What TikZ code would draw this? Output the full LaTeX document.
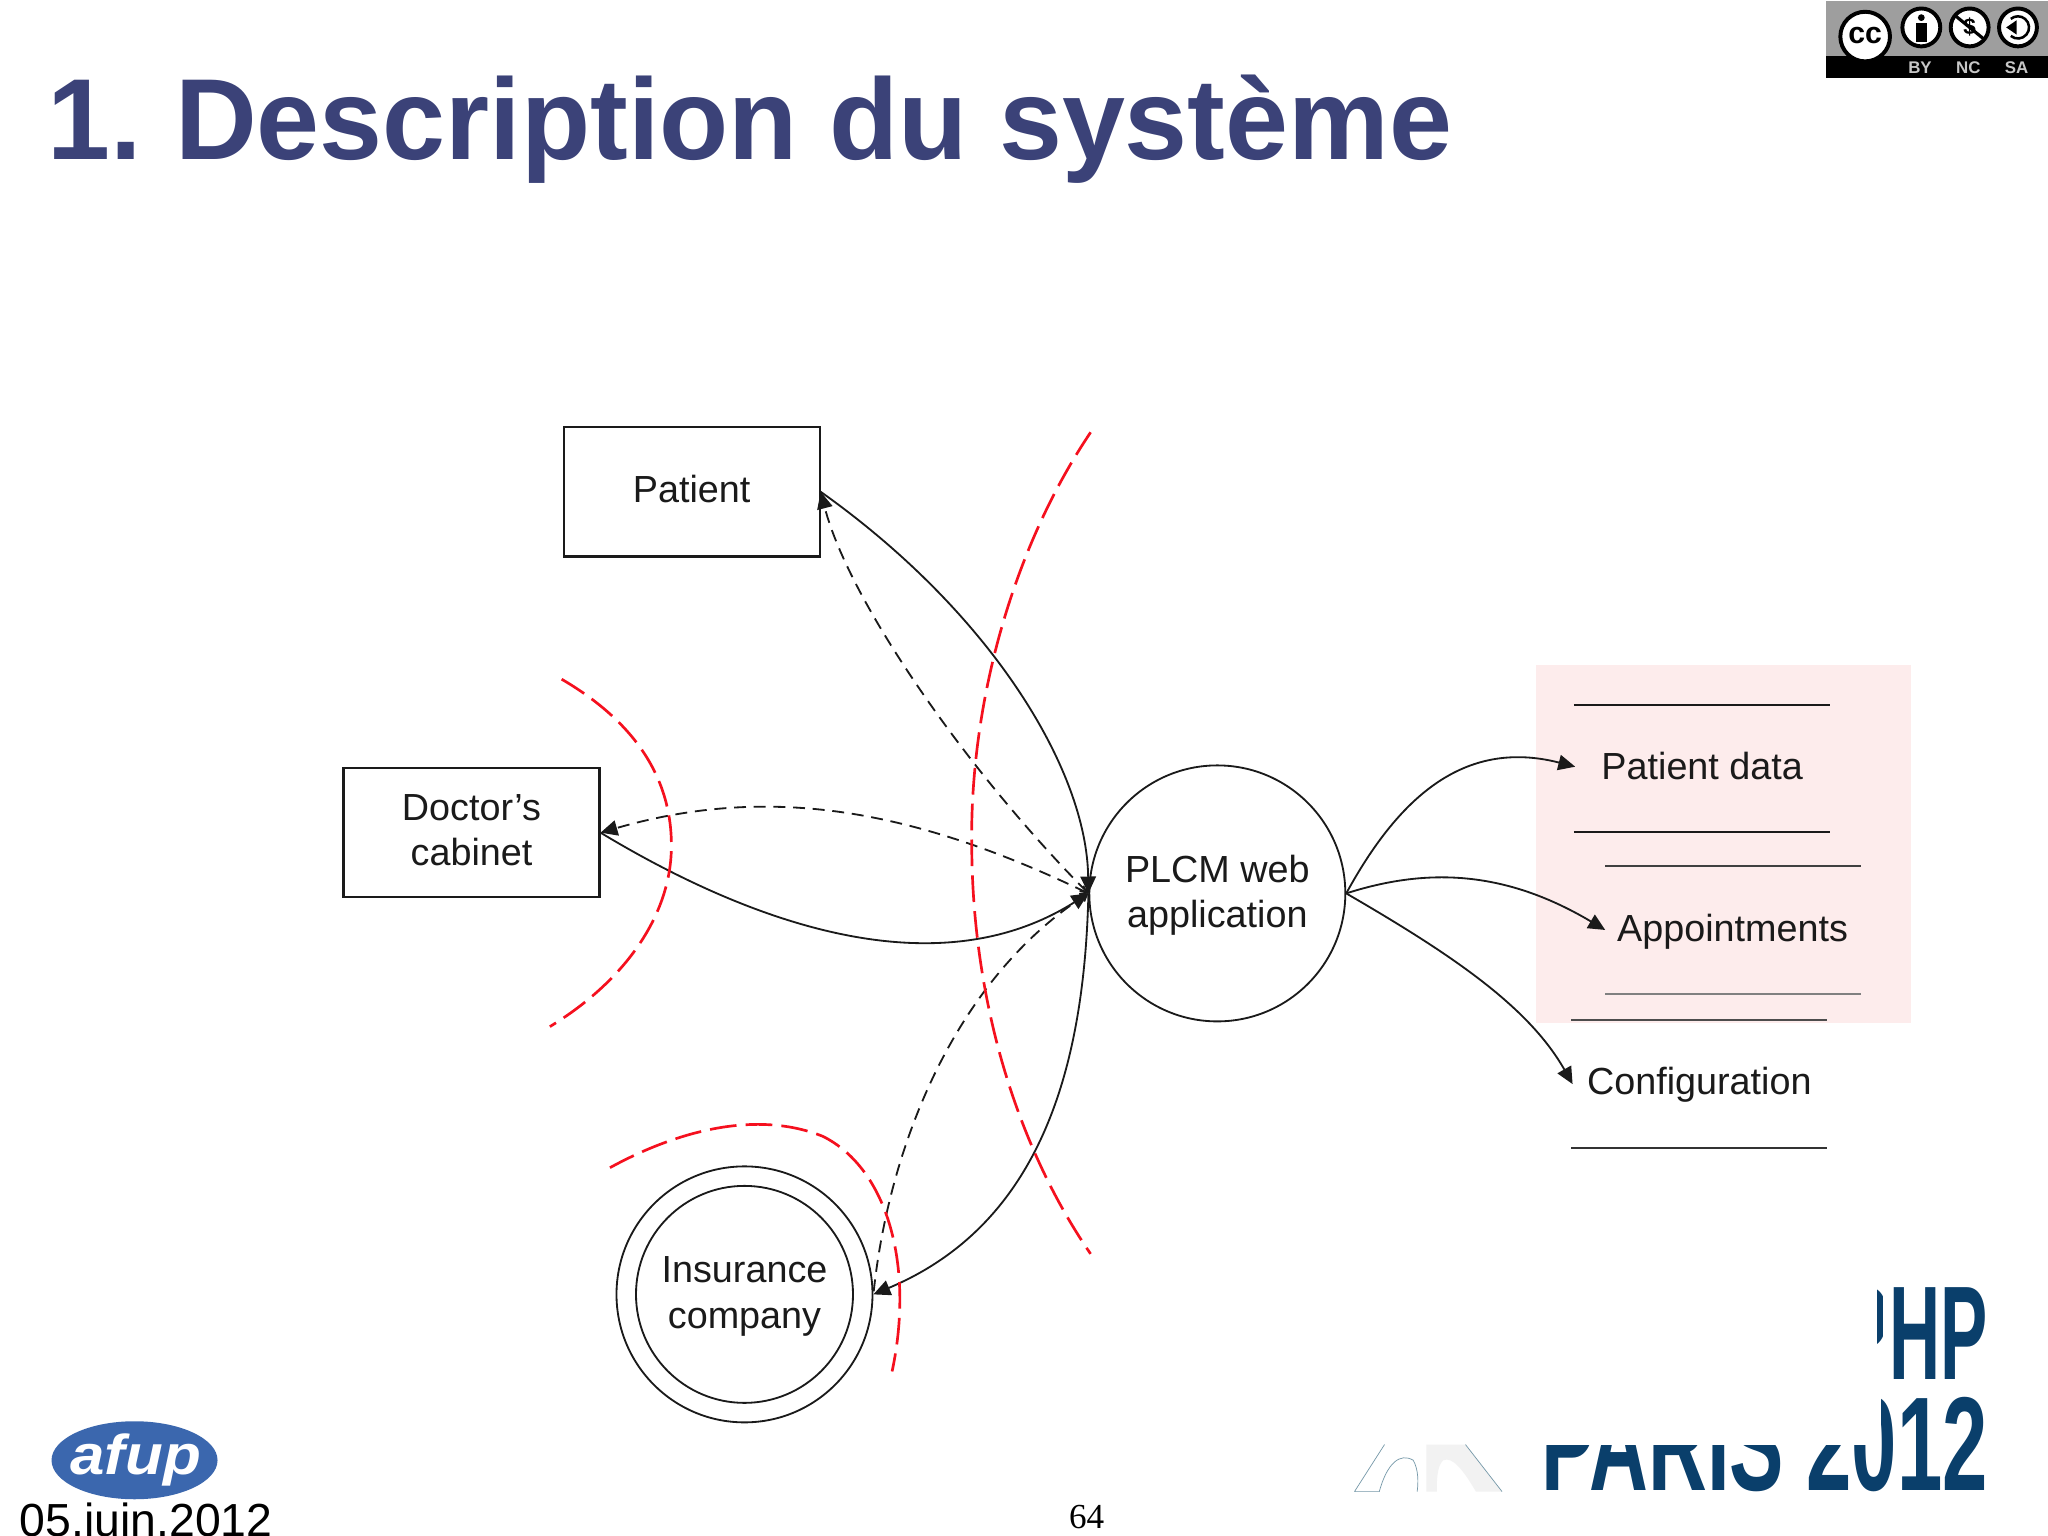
\documentclass[tikz,border=0pt]{standalone}
\usepackage{fontspec}
\setmainfont{Liberation Sans}
\newfontfamily\timesf{Liberation Serif}
\usetikzlibrary{arrows.meta,shapes.geometric}
\definecolor{titleblue}{HTML}{3B4278}
\definecolor{phpblue}{HTML}{0A3F6B}
\definecolor{afupblue}{HTML}{3B67AE}
\definecolor{pinkbg}{HTML}{FDECEC}
\definecolor{redline}{HTML}{F5101E}
\definecolor{inkline}{HTML}{1A1A1A}
\tikzset{
 x=0.0653cm,y=-0.0653cm,
 lbl/.style={font=\fontsize{53.7pt}{64.5pt}\selectfont,text=inkline,align=center,inner sep=0pt},
 boxnode/.style={draw=inkline,line width=3pt,rectangle,minimum width=12.8cm,minimum height=6.47cm,inner sep=0pt},
 circnode/.style={draw=inkline,line width=2.6pt,circle,minimum size=12.8cm,inner sep=0pt},
 up lbl/.style={label={[lbl,yshift=3.5pt]center:#1}},
 down lbl/.style={label={[lbl,yshift=-3pt]center:#1}},
 link/.style={draw=inkline,line width=2.6pt},
 dash link/.style={link,dash pattern=on 17pt off 11pt},
 tip/.style={-{Triangle[length=24pt,width=22pt]}},
 both/.style={{Straight Barb[length=9pt,width=13pt]}-{Triangle[length=24pt,width=22pt]}},
 barb/.style={{Straight Barb[length=9pt,width=13pt]}-},
 boundary/.style={draw=redline,line width=3.8pt,dash pattern=on 38pt off 13pt},
 rule/.style={draw=inkline,line width=2.6pt},
 store/.style={lbl,anchor=base west},
 cclab/.style={font=\fontsize{24pt}{24pt}\selectfont\bfseries,text=black!22,inner sep=0pt},
 ccicon/.style={draw=black,fill=white,line width=5.6pt},
}
\begin{document}
\begin{tikzpicture}
\useasboundingbox (0,0) rectangle (1568,1176);
\fill[white] (0,0) rectangle (1568,1176);
\begin{scope}
\clip (0,0) rectangle (1568,1176);
\fill[pinkbg] (1176,509) rectangle (1463,783);

% title
\node[anchor=base west,inner sep=0pt,text=titleblue,xscale=.982,font=\fontsize{164pt}{180pt}\selectfont\bfseries] (title) at (36,122) {1.\kern-12pt{} Description du système};

% cc badge
\fill[black!38] (1398,1) rectangle (1568,43);
\fill[black] (1398,43) rectangle (1568,60);
\fill[black!38] (1405,40) arc (180:360:23 and 15) -- cycle;
\filldraw[ccicon] (1428,28) circle (19);
\foreach \cx in {1471,1508,1545}{\filldraw[ccicon] (\cx,21) circle (14.5);}
\node[font=\fontsize{43pt}{43pt}\selectfont\bfseries,inner sep=0pt] (cc) at (1428,27) {cc};
\fill[black] (1471,13.5) circle (2.6);
\fill[black] (1467,17.5) rectangle (1475,32);
\node[font=\fontsize{32pt}{32pt}\selectfont\bfseries,inner sep=0pt] (nc) at (1508,21) {\$};
\draw[line width=4.5pt] (1497,12) -- (1519,30);
\draw[line width=3.6pt] (1539.5,27.5) arc (130:-130:8.5);
\fill[black] (1536,21) -- (1544,15.5) -- (1544,26.5) -- cycle;
\node[cclab] (by) at (1470,52) {BY};
\node[cclab] (nclab) at (1507,52) {NC};
\node[cclab] (sa) at (1544,52) {SA};

% diagram nodes
\node[boxnode,up lbl={Patient}] (patient) at (529.5,376.5) {};
\node[boxnode,up lbl={Doctor’s\\cabinet}] (doctor) at (361,637.5) {};
\node[circnode,down lbl={PLCM web\\application}] (plcm) at (932,684) {};
\node[circnode] (insouter) at (570,991) {};
\node[circnode,minimum size=10.85cm,down lbl={Insurance\\company}] (insurance) at (570,991) {};

% connectors
\draw[link,tip] (patient.east) .. controls (760,470) and (832,590) .. (plcm.west);
\draw[dash link,both] (plcm.west) .. controls (740,590) and (650,460) .. (patient.east);
\draw[dash link,both] (plcm.west) .. controls (700,620) and (590,600) .. (doctor.east);
\draw[link,tip] (doctor.east) .. controls (560,698) and (710,762) .. (plcm.west);
\draw[dash link,barb] (plcm.west) .. controls (730,750) and (680,880) .. (insouter.east);
\draw[link,tip] (plcm.west) .. controls (830,830) and (790,940) .. (insouter.east);

% boundaries
\draw[boundary] (835,331) .. controls (775,420) and (742,540) .. (744,650) .. controls (745,770) and (780,880) .. (835,960);
\draw[boundary] (430,520) .. controls (490,555) and (515,600) .. (514,650) .. controls (513,700) and (480,750) .. (421,786);
\draw[boundary] (467,894) .. controls (520,865) and (580,850) .. (630,870) .. controls (680,895) and (700,970) .. (683,1050);

% data stores
\coordinate (s1a) at (1205,540); \coordinate (s1b) at (1401,540);
\coordinate (s2a) at (1205,637); \coordinate (s2b) at (1401,637);
\coordinate (s3a) at (1229,663); \coordinate (s3b) at (1425,663);
\coordinate (s4a) at (1229,761); \coordinate (s4b) at (1425,761);
\coordinate (s5a) at (1203,781); \coordinate (s5b) at (1399,781);
\coordinate (s6a) at (1203,879); \coordinate (s6b) at (1399,879);
\draw[rule] (s1a) -- (s1b);
\draw[rule,line width=2.8pt] (s2a) -- (s2b);
\draw[rule,draw=black!75] (s3a) -- (s3b);
\draw[rule,draw=black!50,line width=3.6pt] (s4a) -- (s4b);
\draw[rule,draw=black!70] (s5a) -- (s5b);
\draw[rule,draw=black!80] (s6a) -- (s6b);
\node[store] (data) at (1226,597) {Patient data};
\node[store] (appt) at (1238,721) {Appointments};
\node[store] (conf) at (1215,838) {Configuration};
\coordinate (dataT) at (1206,587);
\coordinate (apptT) at (1229,712);
\coordinate (confT) at (1204,830);
\draw[link,tip] (plcm.east) .. controls (1070,612) and (1120,565) .. (dataT);
\draw[link,tip] (plcm.east) .. controls (1090,665) and (1150,665) .. (apptT);
\draw[link,tip] (plcm.east) .. controls (1110,730) and (1170,770) .. (confT);

% afup logo
\node[ellipse,fill=afupblue,minimum width=8.3cm,minimum height=3.9cm,inner sep=0pt] (afup) at (103,1118) {};
\node[anchor=base,text=white,inner sep=0pt,xscale=1.1,font=\fontsize{80pt}{85pt}\selectfont\bfseries\itshape] (afupt) at (104,1129) {afup};
\node[anchor=base west,inner sep=0pt,text=black,font=\fontsize{66pt}{70pt}\selectfont] (date) at (15,1176) {05.juin.2012};
\node[anchor=base,inner sep=0pt,text=black,font=\fontsize{50pt}{55pt}\selectfont\timesf] (page) at (832,1170) {64};

% php logo
\begin{scope}
\clip (1437,975) rectangle (1441,1062) (1446,975) rectangle (1540,1062);
\node[anchor=base east,inner sep=0pt,text=phpblue,xscale=.53,font=\fontsize{190pt}{200pt}\selectfont\bfseries] (php) at (1522,1056) {PHP};
\end{scope}
\begin{scope}
\clip (1175,1106) rectangle (1440,1150) (1440,1060) rectangle (1540,1150);
\node[anchor=base east,inner sep=0pt,text=phpblue,xscale=.61,font=\fontsize{190pt}{200pt}\selectfont\bfseries] (paris) at (1522,1141) {PARIS 2012};
\end{scope}
\draw[draw=black!20!cyan!40!gray,line width=1pt] (1037,1142) -- (1060,1106) (1037,1142) -- (1056,1142) .. controls (1062,1120) and (1072,1112) .. (1082,1118) .. controls (1086,1125) and (1086,1135) .. (1085,1142);
\fill[black!5] (1092,1142) -- (1092,1106) -- (1122,1106) -- (1150,1142) -- (1130,1142) .. controls (1120,1125) and (1112,1115) .. (1105,1118) .. controls (1100,1122) and (1100,1135) .. (1100,1142) -- cycle;
\draw[black!20!cyan!40!gray,line width=1pt] (1122,1106) -- (1150,1142);
\end{scope}
\end{tikzpicture}
\end{document}
